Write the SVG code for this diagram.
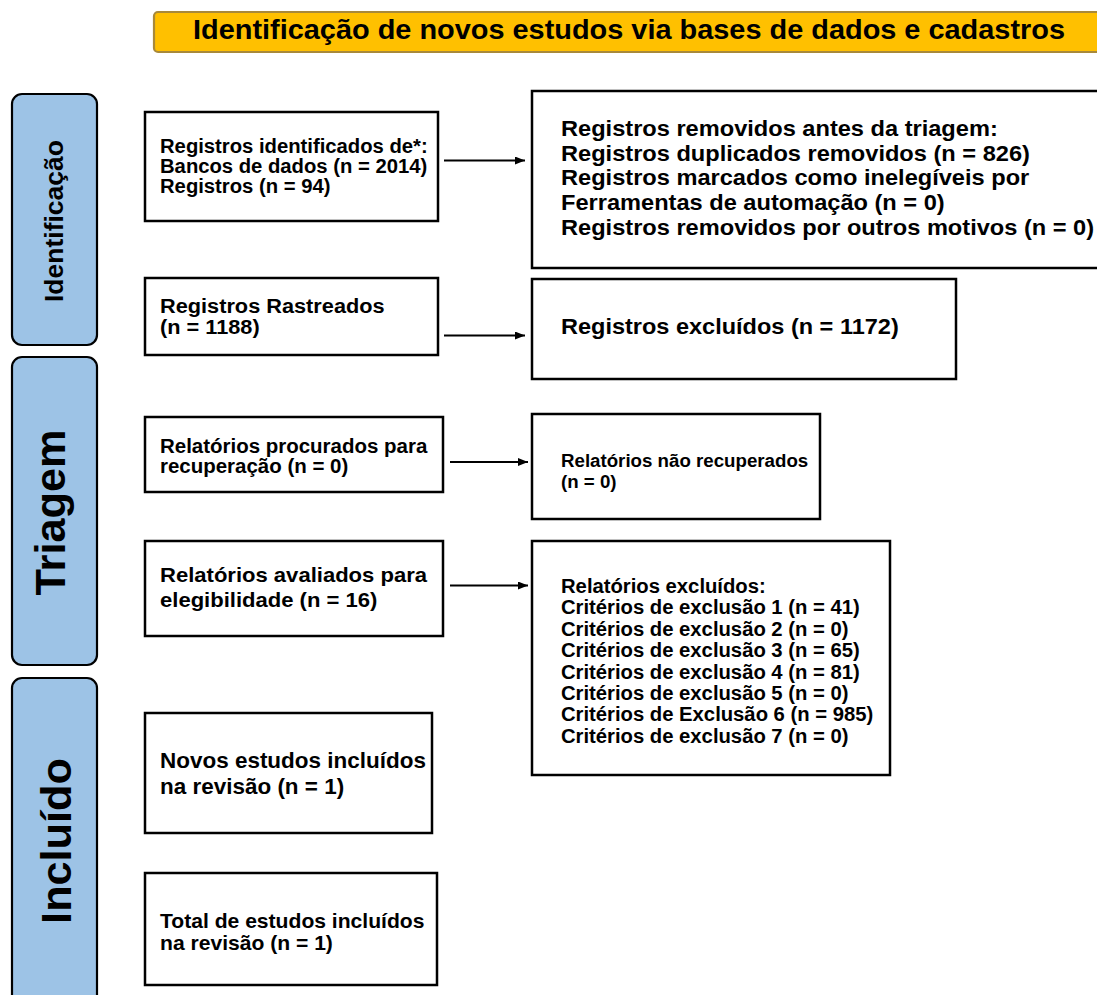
<svg xmlns="http://www.w3.org/2000/svg" width="1097" height="995" viewBox="0 0 1097 995">
<defs>
<style>
.box{fill:#ffffff;stroke:#000000;stroke-width:2.5}
.side{fill:#9dc3e6;stroke:#000000;stroke-width:2.2}
.t{font-family:"Liberation Sans",Arial,sans-serif;font-weight:bold;fill:#000000}
.conn{stroke:#000000;stroke-width:2;fill:none}
</style>
<marker id="ah" viewBox="0 0 10 10" refX="10" refY="5" markerWidth="10" markerHeight="8" markerUnits="userSpaceOnUse" orient="auto" preserveAspectRatio="none">
<path d="M0,0 L10,5 L0,10 z" fill="#000000"/>
</marker>
</defs>
<rect width="1097" height="995" fill="#ffffff"/>

<g id="header">
<rect x="154" y="12" width="960" height="40" rx="4" fill="#ffc000" stroke="#a8893a" stroke-width="2.2"/>
<text class="t" x="193" y="39" font-size="28" textLength="872" lengthAdjust="spacingAndGlyphs">Identificação de novos estudos via bases de dados e cadastros</text>
</g>

<g id="phase-identificacao">
<rect class="side" x="12" y="94" width="85" height="251" rx="10"/>
<text class="t" transform="translate(63 221) rotate(-90)" text-anchor="middle" font-size="26.5">Identificação</text>
</g>
<g id="phase-triagem">
<rect class="side" x="12" y="357" width="85" height="308" rx="10"/>
<text class="t" transform="translate(65 512.5) rotate(-90) scale(1.03 1)" text-anchor="middle" font-size="42">Triagem</text>
</g>
<g id="phase-incluido">
<rect class="side" x="12" y="678" width="85" height="340" rx="10"/>
<text class="t" transform="translate(71 841) rotate(-90) scale(1.03 1)" text-anchor="middle" font-size="42">Incluído</text>
</g>

<g id="n1">
<rect class="box" x="145" y="112" width="293" height="109"/>
<text class="t" transform="translate(160 0) scale(1.05 1)" font-size="19.3"><tspan x="0" y="153">Registros identificados de*:</tspan><tspan x="0" y="173">Bancos de dados (n = 2014)</tspan><tspan x="0" y="193">Registros (n = 94)</tspan></text>
</g>
<g id="n2">
<rect class="box" x="532" y="91" width="580" height="177"/>
<text class="t" transform="translate(561 0) scale(1.05 1)" font-size="22.5"><tspan x="0" y="136">Registros removidos antes da triagem:</tspan><tspan x="0" y="160.75">Registros duplicados removidos (n = 826)</tspan><tspan x="0" y="185.5">Registros marcados como inelegíveis por</tspan><tspan x="0" y="210.25">Ferramentas de automação (n = 0)</tspan><tspan x="0" y="235">Registros removidos por outros motivos (n = 0)</tspan></text>
</g>
<g id="n3">
<rect class="box" x="145" y="278" width="293" height="77"/>
<text class="t" transform="translate(160 0) scale(1.05 1)" font-size="20.7"><tspan x="0" y="313.5">Registros Rastreados</tspan><tspan x="0" y="334.5">(n = 1188)</tspan></text>
</g>
<g id="n4">
<rect class="box" x="532" y="279" width="424" height="100"/>
<text class="t" transform="translate(561 0) scale(1.05 1)" font-size="22.4"><tspan x="0" y="334.5">Registros excluídos (n = 1172)</tspan></text>
</g>
<g id="n5">
<rect class="box" x="145" y="417" width="298" height="75"/>
<text class="t" transform="translate(160 0) scale(1.05 1)" font-size="19.5"><tspan x="0" y="453">Relatórios procurados para</tspan><tspan x="0" y="473.5">recuperação (n = 0)</tspan></text>
</g>
<g id="n6">
<rect class="box" x="532" y="414" width="288" height="105"/>
<text class="t" transform="translate(561 0) scale(1.05 1)" font-size="17.8"><tspan x="0" y="467">Relatórios não recuperados</tspan><tspan x="0" y="488">(n = 0)</tspan></text>
</g>
<g id="n7">
<rect class="box" x="145" y="541" width="298" height="95"/>
<text class="t" transform="translate(160 0) scale(1.05 1)" font-size="21"><tspan x="0" y="582">Relatórios avaliados para</tspan><tspan x="0" y="607">elegibilidade (n = 16)</tspan></text>
</g>
<g id="n8">
<rect class="box" x="532" y="541" width="358" height="234"/>
<text class="t" transform="translate(561 0) scale(1.05 1)" font-size="19.3"><tspan x="0" y="593">Relatórios excluídos:</tspan><tspan x="0" y="614.4">Critérios de exclusão 1 (n = 41)</tspan><tspan x="0" y="635.8">Critérios de exclusão 2 (n = 0)</tspan><tspan x="0" y="657.2">Critérios de exclusão 3 (n = 65)</tspan><tspan x="0" y="678.6">Critérios de exclusão 4 (n = 81)</tspan><tspan x="0" y="700">Critérios de exclusão 5 (n = 0)</tspan><tspan x="0" y="721.4">Critérios de Exclusão 6 (n = 985)</tspan><tspan x="0" y="742.8">Critérios de exclusão 7 (n = 0)</tspan></text>
</g>
<g id="n9">
<rect class="box" x="145" y="713" width="287" height="120"/>
<text class="t" transform="translate(160 0) scale(1.05 1)" font-size="21.4"><tspan x="0" y="768">Novos estudos incluídos</tspan><tspan x="0" y="794">na revisão (n = 1)</tspan></text>
</g>
<g id="n10">
<rect class="box" x="145" y="873" width="292" height="112"/>
<text class="t" transform="translate(160 0) scale(1.05 1)" font-size="20.1"><tspan x="0" y="928">Total de estudos incluídos</tspan><tspan x="0" y="950">na revisão (n = 1)</tspan></text>
</g>

<g id="connectors">
<line class="conn" x1="444" y1="160.5" x2="525" y2="160.5" marker-end="url(#ah)"/>
<line class="conn" x1="444" y1="335.5" x2="525" y2="335.5" marker-end="url(#ah)"/>
<line class="conn" x1="450" y1="462" x2="528" y2="462" marker-end="url(#ah)"/>
<line class="conn" x1="450" y1="585.5" x2="528" y2="585.5" marker-end="url(#ah)"/>
</g>
</svg>
